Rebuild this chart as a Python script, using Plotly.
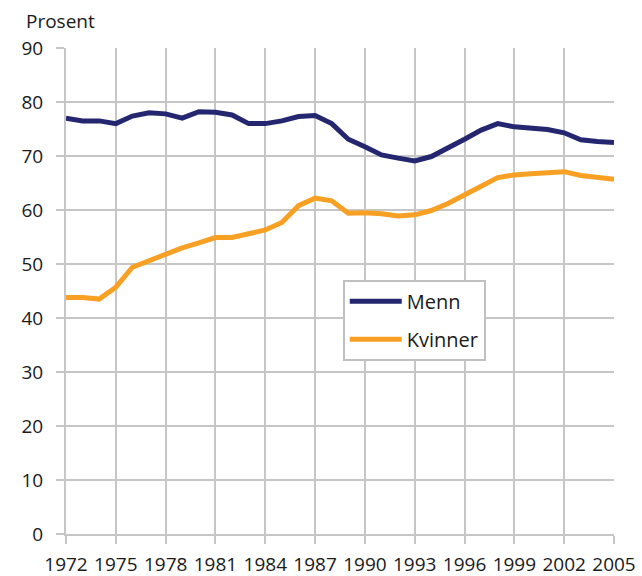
import plotly.graph_objects as go

years = list(range(1972, 2006))
menn = [77.0, 76.5, 76.5, 76.0, 77.4, 78.0, 77.8, 77.0, 78.2, 78.1, 77.6, 76.0,
        76.0, 76.5, 77.3, 77.5, 76.0, 73.1, 71.7, 70.2, 69.6, 69.1, 69.9, 71.4,
        73.1, 74.8, 76.0, 75.4, 75.1, 74.9, 74.3, 73.0, 72.7, 72.5]
kvinner = [43.8, 43.8, 43.5, 45.7, 49.4, 50.6, 51.9, 53.0, 53.9, 54.9, 54.9, 55.5,
           56.3, 57.7, 60.8, 62.2, 61.7, 59.4, 59.5, 59.3, 58.9, 59.1, 59.9, 61.2,
           62.7, 64.4, 66.0, 66.5, 66.7, 66.8, 67.1, 66.4, 66.0, 65.7]
x_ticks = list(range(1972, 2006, 3))
y_ticks = list(range(0, 91, 10))
y_title = "Prosent"

font_family = "Open Sans, Noto Sans, sans-serif"
text_color = "#1a1a1a"
grid_color = "#c6c6c6"

fig = go.Figure()
fig.add_trace(go.Scatter(x=years, y=menn, mode="lines", name="Menn", legendgroup="m",
                         line=dict(color="#24266f", width=5)))
fig.add_trace(go.Scatter(x=years, y=kvinner, mode="lines", name="Kvinner", legendgroup="k",
                         line=dict(color="#f7a024", width=5)))

fig.update_layout(
    width=642, height=576,
    margin=dict(l=66, r=28, t=48, b=42, autoexpand=False),
    paper_bgcolor="white", plot_bgcolor="white",
    font=dict(family=font_family, size=19, color=text_color),
    showlegend=True,
    legend=dict(x=0.505, y=0.523, xanchor="left", yanchor="top",
                bgcolor="white", bordercolor="#c0c0c0", borderwidth=2,
                font=dict(size=20), tracegroupgap=9, itemwidth=52,
                traceorder="grouped"),
    xaxis=dict(range=[1972, 2005], tickvals=x_ticks, ticktext=[str(v) for v in x_ticks],
               showgrid=True, gridcolor=grid_color, gridwidth=2,
               showline=True, linecolor=grid_color, linewidth=2,
               ticks="outside", ticklen=8, tickwidth=2, tickcolor=grid_color,
               ticklabelstandoff=4, zeroline=False, tickfont=dict(size=19),
               automargin=False),
    yaxis=dict(range=[0, 90], tickvals=y_ticks, showgrid=True, gridcolor=grid_color, gridwidth=2,
               showline=True, linecolor=grid_color, linewidth=2,
               ticks="outside", ticklen=8, tickwidth=2, tickcolor=grid_color,
               ticklabelstandoff=9, zeroline=False, tickfont=dict(size=19),
               automargin=False),
    annotations=[dict(text=y_title, xref="paper", yref="paper", x=-0.077, y=1.0,
                      xanchor="left", yanchor="bottom", yshift=12, showarrow=False,
                      font=dict(size=19, color=text_color))],
)

fig.write_html("out.html", config={"displayModeBar": False},
               post_script="document.body.style.margin='0';document.body.style.overflow='hidden';")
